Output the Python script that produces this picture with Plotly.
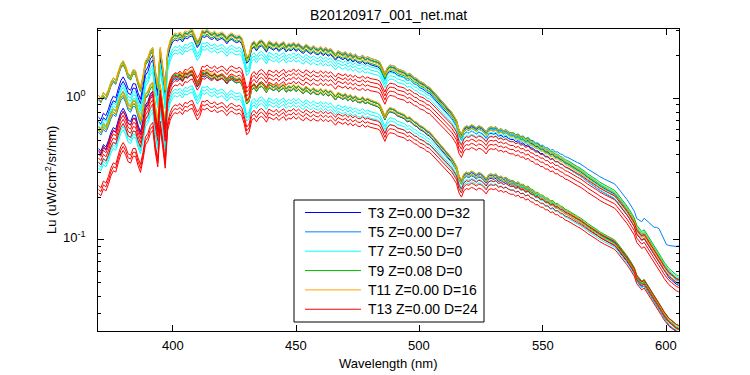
import numpy as np
import plotly.graph_objects as go

# ---------------- data ----------------
WAVELENGTH = list(range(370, 606))  # nm, 1 nm step

# reference spectrum: top envelope of the upper bundle (uW/cm^2/sr/nm)
LU_REF = [
    1.05, 1.00, 1.10, 1.05, 1.15, 1.30, 1.40, 1.35, 1.55, 1.75,   # 370-379
    1.85, 1.70, 1.50, 1.45, 1.60, 1.58, 1.35, 1.20, 1.45, 1.85,   # 380-389
    1.95, 2.20, 2.30, 1.60, 1.25, 2.30, 1.70, 1.20, 2.20, 2.57,   # 390-399
    2.80, 2.90, 2.85, 2.95, 2.80, 3.00, 2.95, 3.05, 3.09, 2.80,   # 400-409
    2.55, 2.70, 3.05, 3.00, 3.09, 2.95, 2.90, 3.00, 2.85, 2.90,   # 410-419
    2.95, 2.85, 2.70, 2.85, 2.90, 2.80, 2.75, 2.80, 2.70, 2.35,   # 420-429
    1.96, 2.05, 2.45, 2.55, 2.40, 2.55, 2.60, 2.50, 2.35, 2.55,   # 430-439
    2.50, 2.42, 2.52, 2.38, 2.46, 2.52, 2.36, 2.45, 2.40, 2.50,   # 440-449
    2.38, 2.46, 2.36, 2.30, 2.42, 2.34, 2.27, 2.36, 2.28, 2.25,   # 450-459
    2.33, 2.22, 2.30, 2.20, 2.26, 2.16, 2.06, 2.18, 2.14, 2.08,   # 460-469
    2.14, 2.03, 2.10, 2.00, 2.06, 1.98, 1.96, 2.02, 1.93, 1.97,   # 470-479
    1.92, 1.90, 1.88, 1.85, 1.80, 1.65, 1.50, 1.65, 1.72, 1.70,   # 480-489
    1.68, 1.62, 1.60, 1.58, 1.55, 1.48, 1.50, 1.45, 1.40, 1.38,   # 490-499
    1.32, 1.30, 1.27, 1.22, 1.20, 1.15, 1.10, 1.05, 1.00, 0.96,   # 500-509
    0.92, 0.87, 0.84, 0.80, 0.75, 0.70, 0.60, 0.56, 0.62, 0.64,   # 510-519
    0.63, 0.65, 0.64, 0.62, 0.64, 0.63, 0.61, 0.58, 0.62, 0.63,   # 520-529
    0.62, 0.63, 0.60, 0.61, 0.59, 0.60, 0.58, 0.57, 0.57, 0.55,   # 530-539
    0.56, 0.535, 0.54, 0.515, 0.525, 0.50, 0.495, 0.475, 0.475, 0.455,  # 540-549
    0.455, 0.435, 0.435, 0.415, 0.42, 0.40, 0.40, 0.385, 0.38, 0.365,   # 550-559
    0.36, 0.35, 0.345, 0.335, 0.325, 0.318, 0.31, 0.30, 0.29, 0.283,  # 560-569
    0.275, 0.267, 0.26, 0.252, 0.245, 0.24, 0.235, 0.23, 0.226, 0.22,  # 570-579
    0.21, 0.20, 0.19, 0.18, 0.17, 0.16, 0.15, 0.14, 0.124, 0.118,  # 580-589
    0.112, 0.115, 0.108, 0.10, 0.094, 0.089, 0.084, 0.078, 0.073, 0.068,  # 590-599
    0.064, 0.061, 0.059, 0.057, 0.055, 0.054,                      # 600-605
]

# wavelengths at which each cast's ratio to LU_REF was read
ANCHOR_WL = [370, 385, 400, 430, 480, 520, 560, 605]

SERIES_NAMES = ["T3 Z=0.00 D=32", "T5 Z=0.00 D=7", "T7 Z=0.50 D=0",
                "T9 Z=0.08 D=0", "T11 Z=0.00 D=16", "T13 Z=0.00 D=24"]
SERIES_COLORS = ["#0000FF", "#0080FF", "#00FFFF", "#00BF00", "#FFA500", "#FF0000"]

# ratio to LU_REF (upper and lower bundles) at ANCHOR_WL, and per-line offsets
T3_UPPER = [0.70, 0.80, 0.96, 0.97, 0.97, 0.97, 0.96, 0.95]
T3_LOWER = [0.42, 0.48, 0.50, 0.49, 0.50, 0.46, 0.44, 0.43]
T3_UPPER_LINES = [1.0, 0.93]
T3_LOWER_LINES = [1.0, 0.95]

T5_UPPER = [0.93, 0.93, 0.95, 0.96, 0.97, 0.98, 0.98, 0.97]
T5_LOWER = [0.55, 0.55, 0.50, 0.49, 0.50, 0.46, 0.44, 0.44]
T5_UPPER_LINES = [1.0]
T5_LOWER_LINES = [1.0]
# the one T5 spectrum that stays high in the red
T5_HIGH_WL = [370, 400, 480, 540, 552, 565, 579, 588, 590, 595, 597, 600, 605]
T5_HIGH = [0.95, 0.97, 1.0, 1.0, 1.03, 1.085, 1.13, 1.14, 1.2, 1.38, 1.54, 1.45, 1.68]

T7_UPPER = [0.64, 0.70, 0.80, 0.82, 0.87, 0.95, 0.99, 1.00]
T7_LOWER = [0.34, 0.37, 0.40, 0.39, 0.42, 0.44, 0.44, 0.46]
T7_UPPER_LINES = [1.0, 0.95, 0.90]
T7_LOWER_LINES = [1.0, 0.95, 0.90]

T9_UPPER = [1.00, 0.98, 0.97, 0.97, 0.97, 0.99, 1.01, 1.03]
T9_LOWER = [0.60, 0.60, 0.51, 0.49, 0.50, 0.47, 0.45, 0.46]
T9_UPPER_LINES = [1.0, 0.95]
T9_LOWER_LINES = [1.0, 0.95]

T11_UPPER = [1.00, 1.00, 1.00, 1.00, 1.00, 1.00, 0.98, 0.97]
T11_LOWER = [0.60, 0.61, 0.52, 0.50, 0.51, 0.47, 0.44, 0.45]
T11_UPPER_LINES = [1.0, 0.95]
T11_LOWER_LINES = [1.0, 0.95]

T13_UPPER = [0.41, 0.45, 0.52, 0.60, 0.72, 0.84, 0.90, 0.97]
T13_LOWER = [0.23, 0.28, 0.31, 0.32, 0.37, 0.41, 0.43, 0.46]
T13_UPPER_LINES = [1.0, 0.94, 0.88, 0.82]
T13_LOWER_LINES = [1.0, 0.94, 0.88]

Y_TICKS = [0.1, 1]
Y_TICK_TEXT = ["10<sup>-1</sup>", "10<sup>0</sup>"]
Y_MINOR = [0.03, 0.04, 0.05, 0.06, 0.07, 0.08, 0.09,
           0.2, 0.3, 0.4, 0.5, 0.6, 0.7, 0.8, 0.9, 2, 3]
X_TICKS = [400, 450, 500, 550, 600]
X_TICK_TEXT = ["400", "450", "500", "550", "600"]
X_RANGE = [369.8, 605.1]
Y_RANGE = [0.0227, 3.09]

# ---------------- layout helpers (pixel -> paper) ----------------
L, R, T, B = 98, 679, 29, 331
def px(x):
    return (x - L) / (R - L)
def py(y):
    return (B - y) / (B - T)

FONT = "Liberation Sans, Arial, sans-serif"

# ---------------- figure ----------------
wl = np.array(WAVELENGTH, dtype=float)
ref = np.array(LU_REF)

bundles = [
    [(ANCHOR_WL, T3_UPPER, T3_UPPER_LINES), (ANCHOR_WL, T3_LOWER, T3_LOWER_LINES)],
    [(T5_HIGH_WL, T5_HIGH, [1.0]), (ANCHOR_WL, T5_UPPER, T5_UPPER_LINES),
     (ANCHOR_WL, T5_LOWER, T5_LOWER_LINES)],
    [(ANCHOR_WL, T7_UPPER, T7_UPPER_LINES), (ANCHOR_WL, T7_LOWER, T7_LOWER_LINES)],
    [(ANCHOR_WL, T9_UPPER, T9_UPPER_LINES), (ANCHOR_WL, T9_LOWER, T9_LOWER_LINES)],
    [(ANCHOR_WL, T11_UPPER, T11_UPPER_LINES), (ANCHOR_WL, T11_LOWER, T11_LOWER_LINES)],
    [(ANCHOR_WL, T13_UPPER, T13_UPPER_LINES), (ANCHOR_WL, T13_LOWER, T13_LOWER_LINES)],
]

fig = go.Figure()
for name, color, groups in zip(SERIES_NAMES, SERIES_COLORS, bundles):
    for awl, ratio, mults in groups:
        r = np.interp(wl, awl, ratio)
        for m in mults:
            fig.add_trace(go.Scatter(
                x=WAVELENGTH, y=ref * r * m, mode="lines", name=name,
                legendgroup=name, showlegend=False,
                line=dict(color=color, width=1), hoverinfo="skip"))

shapes = []
annotations = []

# legend box (MATLAB style): border, line samples and labels
shapes.append(dict(type="rect", xref="paper", yref="paper",
                   x0=px(294), x1=px(484), y0=py(322), y1=py(200),
                   line=dict(color="black", width=1), fillcolor="white", layer="above"))
for i, (name, color) in enumerate(zip(SERIES_NAMES, SERIES_COLORS)):
    yy = 212.5 + 19.35 * i
    shapes.append(dict(type="line", xref="paper", yref="paper",
                       x0=px(305), x1=px(361), y0=py(yy), y1=py(yy),
                       line=dict(color=color, width=1), layer="above"))
    annotations.append(dict(text=name, xref="paper", yref="paper",
                            x=px(366), y=py(yy), xanchor="left", yanchor="middle",
                            showarrow=False, font=dict(family=FONT, size=14, color="black")))

# x tick labels
for v, t in zip(X_TICKS, X_TICK_TEXT):
    annotations.append(dict(text=t, xref="x", yref="paper", x=v, y=py(345.5),
                            xanchor="center", yanchor="middle", showarrow=False,
                            font=dict(family=FONT, size=13, color="black")))
# x axis title
annotations.append(dict(text="Wavelength (nm)", xref="paper", yref="paper",
                        x=0.5, y=py(363), xanchor="center", yanchor="middle",
                        showarrow=False, font=dict(family=FONT, size=13, color="black")))
# y tick labels
for v, t in zip(Y_TICKS, Y_TICK_TEXT):
    annotations.append(dict(text=t, xref="paper", yref="y", x=px(88), y=np.log10(v),
                            xanchor="right", yanchor="middle", yshift=2.5, showarrow=False,
                            font=dict(family=FONT, size=13, color="black")))
# y axis title
annotations.append(dict(text="Lu (uW/cm<sup>2</sup>/sr/nm)", xref="paper", yref="paper",
                        x=px(51), y=0.5, xanchor="center", yanchor="middle",
                        textangle=-90, showarrow=False,
                        font=dict(family=FONT, size=13, color="black")))

fig.update_layout(
    width=750, height=375,
    margin=dict(l=L, r=750 - R, t=T, b=375 - B),
    paper_bgcolor="white", plot_bgcolor="white",
    font=dict(family=FONT, size=13, color="black"),
    title=dict(text="B20120917_001_net.mat", x=(L + R) / 2 / 750, xanchor="center",
               y=1 - 15 / 375, yanchor="middle", font=dict(size=14)),
    showlegend=False,
    hovermode=False,
    shapes=shapes,
    annotations=annotations,
)
fig.update_xaxes(
    range=X_RANGE, tickvals=X_TICKS, showticklabels=False,
    ticks="inside", ticklen=6, tickcolor="black",
    showline=True, linecolor="black", linewidth=1, mirror="ticks",
    showgrid=False, zeroline=False,
)
fig.update_yaxes(
    type="log", range=[np.log10(Y_RANGE[0]), np.log10(Y_RANGE[1])],
    tickvals=Y_TICKS, showticklabels=False, ticks="inside", ticklen=6, tickcolor="black",
    minor=dict(tickmode="array", tickvals=Y_MINOR, ticks="inside", ticklen=3,
               tickcolor="black", showgrid=False),
    showline=True, linecolor="black", linewidth=1, mirror="ticks",
    showgrid=False, zeroline=False,
)

# place the 750x375 figure at the page origin (no default body margin)
fig.write_html("out.html",
               config={"displayModeBar": False},
               post_script="document.body.style.margin='0';"
                           "document.body.style.overflow='hidden';")
